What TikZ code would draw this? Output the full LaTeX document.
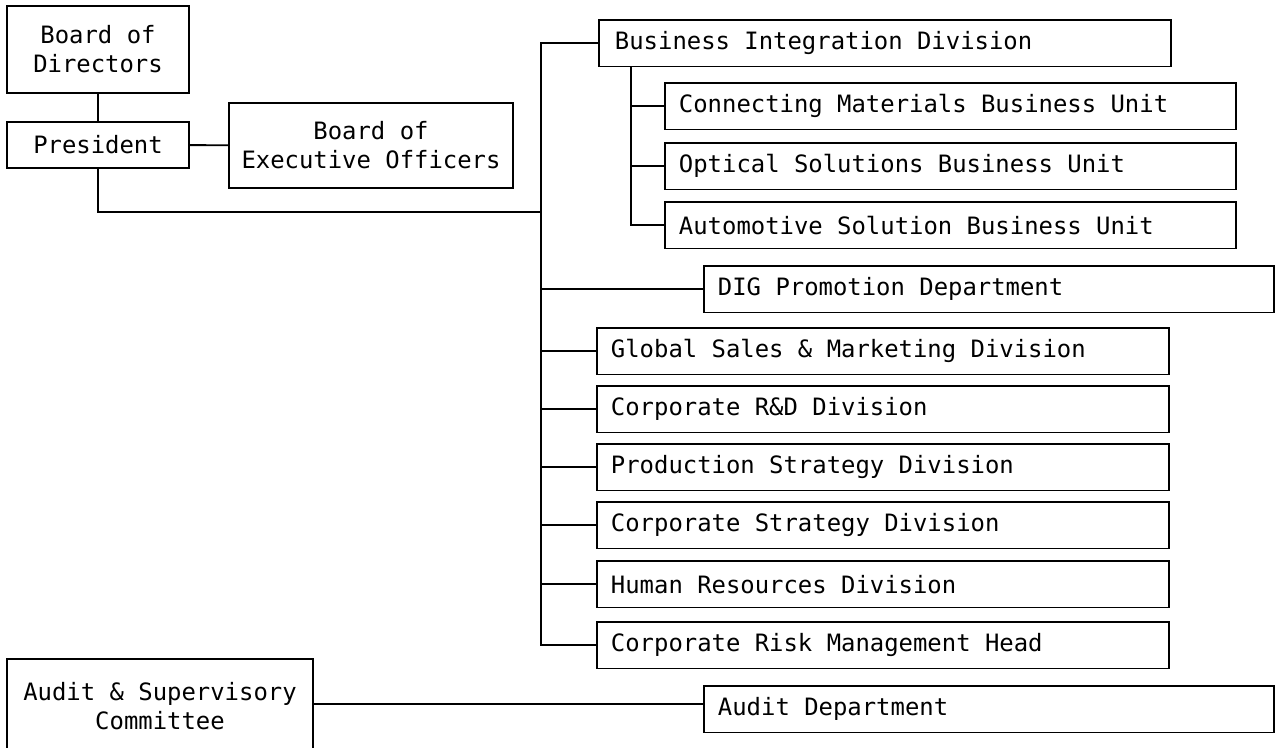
\documentclass[tikz,border=0pt]{standalone}
\usepackage{fontspec}
\setmonofont{DejaVu Sans Mono}
\newcommand{\lbox}[2]{\makebox[#1][l]{#2}}
\begin{document}
\begin{tikzpicture}[x=1pt,y=-1pt,
  every node/.style={font=\ttfamily\fontsize{23.9}{29}\selectfont},
  orgbox/.style={draw, line width=1.9pt, inner sep=0pt, align=center},
  unitbox/.style={draw, line width=1.9pt, anchor=north west, inner xsep=14pt, inner ysep=0pt, minimum height=46.5pt},
  link/.style={line width=1.9pt}]
\useasboundingbox (0,0) rectangle (1277,747);
\clip (0,0) rectangle (1277,747);
% left column
\node[orgbox, minimum width=182pt, minimum height=87pt] (bod) at (98,49.5) {Board of\\Directors};
\node[orgbox, minimum width=182pt, minimum height=46pt] (pres) at (98,145) {President};
\node[orgbox, minimum width=284pt, minimum height=85pt] (boeo) at (371,145.5) {Board of\\Executive Officers};
\node[orgbox, minimum width=306pt, minimum height=110pt] (asc) at (160,714) {};
\node[align=center] (asctext) at (160,706) {Audit \& Supervisory\\Committee};
% right column
\node[unitbox, inner xsep=16pt] (bid) at (598,19) {\lbox{540pt}{Business Integration Division}};
\node[unitbox] (cmbu) at (664,82) {\lbox{543pt}{Connecting Materials Business Unit}};
\node[unitbox] (osbu) at (664,142) {\lbox{543pt}{Optical Solutions Business Unit}};
\node[unitbox] (asbu) at (664,201) {\lbox{543pt}{Automotive Solution Business Unit}};
\node[unitbox] (dig) at (703,265) {\lbox{542pt}{DIG Promotion Department}};
\node[unitbox] (gsm) at (596,327) {\lbox{544pt}{Global Sales \& Marketing Division}};
\node[unitbox] (rd) at (596,385) {\lbox{544pt}{Corporate R\&D Division}};
\node[unitbox] (psd) at (596,443) {\lbox{544pt}{Production Strategy Division}};
\node[unitbox] (csd) at (596,501) {\lbox{544pt}{Corporate Strategy Division}};
\node[unitbox] (hrd) at (596,560) {\lbox{544pt}{Human Resources Division}};
\node[unitbox] (crmh) at (596,621) {\lbox{544pt}{Corporate Risk Management Head}};
\node[unitbox] (ad) at (703,685) {\lbox{542pt}{Audit Department}};
% connectors
\coordinate (t) at (541,0);
\coordinate (s) at (631,0);
\coordinate (pj) at (0,212);
\draw[link] (bod) -- (pres);
\draw[link] (pres) -- (boeo);
\draw[link] (pres.south) |- (t |- pj);
\draw[link] (bid.west) -- (bid.west -| t) |- (crmh.west);
\foreach \n in {dig,gsm,rd,psd,csd,hrd}
  \draw[link] (\n.west) -- (\n.west -| t);
\draw[link] (bid.south -| s) |- (asbu.west);
\foreach \n in {cmbu,osbu}
  \draw[link] (\n.west) -- (\n.west -| s);
\draw[link] (asc.east |- 0,704) -- (ad.west |- 0,704);
\end{tikzpicture}
\end{document}
